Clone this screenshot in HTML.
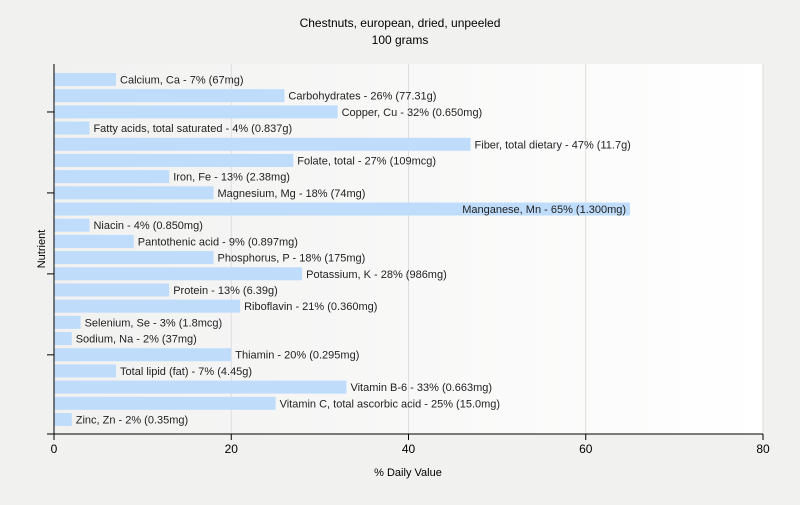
<!DOCTYPE html>
<html><head><meta charset="utf-8"><style>
body{margin:0;background:#f1f1f0;font-family:"Liberation Sans",sans-serif;}
svg text{font-family:"Liberation Sans",sans-serif;}
</style></head><body>
<svg width="800" height="500">
<defs><linearGradient id="bg" x1="0" x2="1" y1="0" y2="0"><stop offset="0" stop-color="#f1f1f0"/><stop offset="1" stop-color="#ffffff"/></linearGradient></defs>
<text x="400" y="27" text-anchor="middle" font-size="12">Chestnuts, european, dried, unpeeled</text>
<text x="400" y="44" text-anchor="middle" font-size="12">100 grams</text>
<rect x="54" y="64" width="709" height="370" fill="url(#bg)"/>
<g id="grid"></g><g id="bars"></g><g id="axes"></g>
<text x="408" y="476" text-anchor="middle" font-size="11">% Daily Value</text>
<text transform="translate(45,249) rotate(-90)" text-anchor="middle" font-size="11">Nutrient</text>
</svg>
<script>
const labels=["Calcium, Ca - 7% (67mg)","Carbohydrates - 26% (77.31g)","Copper, Cu - 32% (0.650mg)","Fatty acids, total saturated - 4% (0.837g)","Fiber, total dietary - 47% (11.7g)","Folate, total - 27% (109mcg)","Iron, Fe - 13% (2.38mg)","Magnesium, Mg - 18% (74mg)","Manganese, Mn - 65% (1.300mg)","Niacin - 4% (0.850mg)","Pantothenic acid - 9% (0.897mg)","Phosphorus, P - 18% (175mg)","Potassium, K - 28% (986mg)","Protein - 13% (6.39g)","Riboflavin - 21% (0.360mg)","Selenium, Se - 3% (1.8mcg)","Sodium, Na - 2% (37mg)","Thiamin - 20% (0.295mg)","Total lipid (fat) - 7% (4.45g)","Vitamin B-6 - 33% (0.663mg)","Vitamin C, total ascorbic acid - 25% (15.0mg)","Zinc, Zn - 2% (0.35mg)"];
const values=[7,26,32,4,47,27,13,18,65,4,9,18,28,13,21,3,2,20,7,33,25,2];
const xTicks=[0,20,40,60,80];
const NS="http://www.w3.org/2000/svg";
const x=v=>54+v*(709/80);
const y=i=>73+i*16.19;
function mk(t,a,p){const e=document.createElementNS(NS,t);for(const k in a)e.setAttribute(k,a[k]);p.appendChild(e);return e;}
const grid=document.getElementById('grid'),bars=document.getElementById('bars'),axes=document.getElementById('axes');
xTicks.forEach(t=>{
 if(t>0){const g=mk('line',{x1:x(t),x2:x(t),y1:64,y2:434,stroke:'#dddddd'},grid);
 
 }
 const tk=mk('line',{x1:x(t),x2:x(t),y1:434,y2:440,stroke:'#000'},axes);
 
 
 const tl=mk('text',{x:x(t),y:453,'text-anchor':'middle','font-size':'12'},axes);tl.textContent=t;
 
 
});
values.forEach((v,i)=>{
 const r=mk('rect',{x:54,y:y(i),width:x(v)-54,height:13,fill:'#bfdcfb'},bars);
 
 
 const t=mk('text',{x:x(v)+4,y:y(i)+10.5,'font-size':'11',fill:'#222'},bars);t.textContent=labels[i];
 
 
 if(x(v)+4+t.getComputedTextLength()>763){t.setAttribute('x',x(v)-4);t.setAttribute('text-anchor','end');}
});
[2.5,7.5,12.5,17.5].forEach((p,j)=>{
 const yy=y(0)+p*16.19-1.5;
 const tk=mk('line',{x1:47,x2:54,y1:yy,y2:yy,stroke:'#000'},axes);
 
 
});
const ya=mk('line',{x1:54,x2:54,y1:64,y2:434,stroke:'#000'},axes);


const xa=mk('line',{x1:47,x2:763,y1:434,y2:434,stroke:'#000'},axes);


</script>
</body></html>
